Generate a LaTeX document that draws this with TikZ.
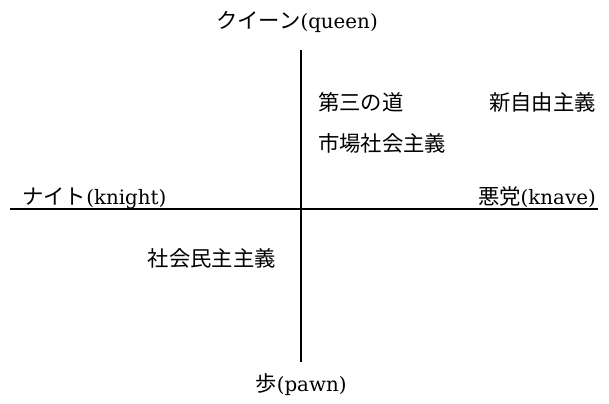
\documentclass[tikz,border=0pt]{standalone}
\usepackage{fontspec}
\setmainfont{DejaVu Serif}[Scale=0.93]
\newfontfamily\cjk{Noto Sans CJK JP}
\begin{document}
\begin{tikzpicture}[x=0.75pt,y=-0.75pt,
  lbl/.style={inner sep=0pt,font=\fontsize{16}{19}\selectfont},
  axis/.style={line width=1pt,black}]
\useasboundingbox (0,0) rectangle (609,403);
\coordinate (top) at (301,50);
\coordinate (bot) at (301,362);
\coordinate (left) at (10,209);
\coordinate (right) at (598,209);
\draw[axis] (top) -- (bot);
\draw[axis] (left) -- (right);
\node[lbl] (queen) at (297,22) {{\cjk クイーン}(queen)};
\node[lbl] (pawn) at (301,385) {{\cjk 歩}(pawn)};
\node[lbl,anchor=base west] (knight) at (22,204) {{\cjk ナイト}(knight)};
\node[lbl,anchor=base east] (knave) at (596,204) {{\cjk 悪党}(knave)};
\node[lbl,anchor=west] (third) at (318,102) {\cjk 第三の道};
\node[lbl,anchor=east] (neolib) at (596,102) {\cjk 新自由主義};
\node[lbl,anchor=west] (market) at (318,143) {\cjk 市場社会主義};
\node[lbl,anchor=east] (socdem) at (276,258) {\cjk 社会民主主義};
\end{tikzpicture}
\end{document}
